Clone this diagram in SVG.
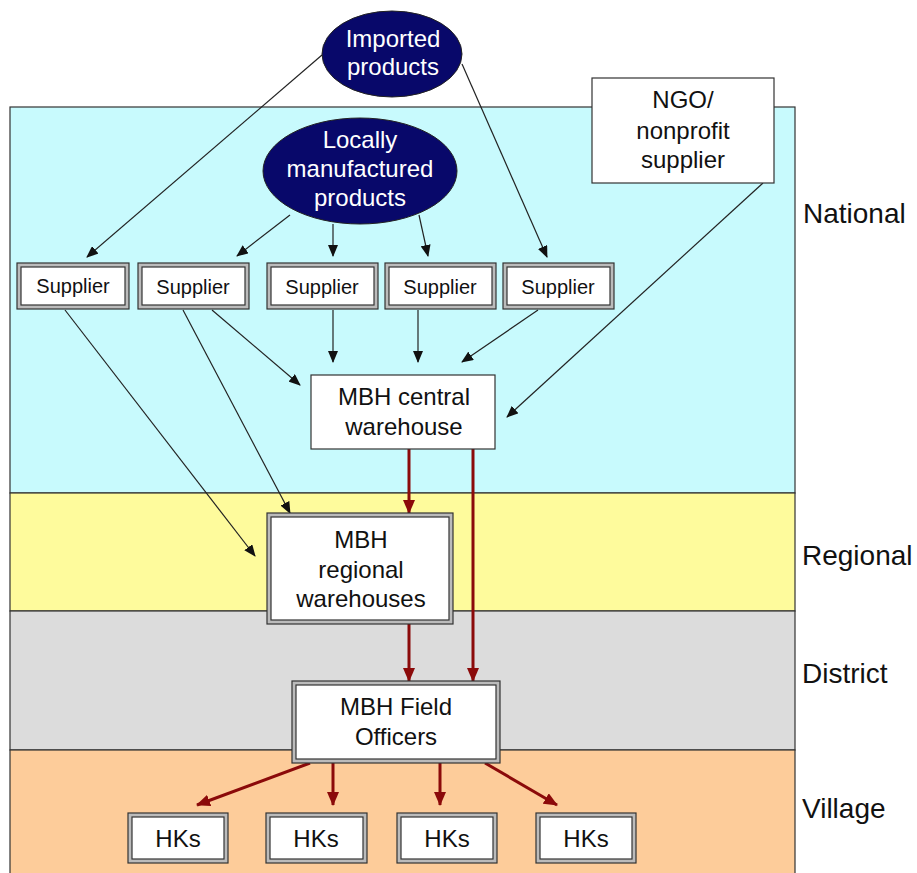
<svg xmlns="http://www.w3.org/2000/svg" width="917" height="873" viewBox="0 0 917 873">
<style>
text{font-family:"Liberation Sans",Arial,sans-serif;text-anchor:middle;fill:#111}
.w{fill:#fff;font-size:24px}
.s{font-size:20px}
.m{font-size:24px}
.lbl{font-size:28px;text-anchor:start}
.band{stroke:#333;stroke-width:1.2}
.o{fill:#bbb;stroke:#333;stroke-width:1.2}
.i{fill:#fff;stroke:#333;stroke-width:1.2}
.b{stroke:#222;stroke-width:1.2;fill:none;marker-end:url(#ab)}
.r{stroke:#8b0a0a;stroke-width:3;fill:none;marker-end:url(#ar)}
</style>
<defs>
<marker id="ab" markerWidth="12" markerHeight="10" refX="11" refY="5" orient="auto" markerUnits="userSpaceOnUse"><path d="M0,0 L12,5 L0,10 Z" fill="#111"/></marker>
<marker id="ar" markerWidth="14" markerHeight="12" refX="13" refY="6" orient="auto" markerUnits="userSpaceOnUse"><path d="M0,0 L14,6 L0,12 Z" fill="#8b0a0a"/></marker>
</defs>
<rect width="917" height="873" fill="#fff"/>
<g id="bands">
<rect class="band" x="10" y="107" width="785" height="386" fill="#c8fafd"/>
<rect class="band" x="10" y="493" width="785" height="118" fill="#fefb9c"/>
<rect class="band" x="10" y="611" width="785" height="139" fill="#dcdcdc"/>
<rect class="band" x="10" y="750" width="785" height="130" fill="#fdcc9a"/>
<text class="lbl" x="803" y="223">National</text>
<text class="lbl" x="802" y="565">Regional</text>
<text class="lbl" x="802" y="683">District</text>
<text class="lbl" x="802" y="818">Village</text>
</g>
<g id="connectors">
<line class="b" x1="322" y1="55" x2="87" y2="257"/>
<line class="b" x1="462" y1="64" x2="547" y2="257"/>
<line class="b" x1="290" y1="215" x2="237" y2="256"/>
<line class="b" x1="333" y1="224" x2="333" y2="256"/>
<line class="b" x1="419" y1="215" x2="428" y2="256"/>
<line class="b" x1="763" y1="183" x2="507" y2="417"/>
<line class="b" x1="212" y1="310" x2="300" y2="385"/>
<line class="b" x1="333" y1="310" x2="333" y2="362"/>
<line class="b" x1="418" y1="310" x2="418" y2="362"/>
<line class="b" x1="538" y1="310" x2="462" y2="362"/>
<line class="b" x1="65" y1="310" x2="255" y2="556"/>
<line class="b" x1="183" y1="310" x2="290" y2="513"/>
<line class="r" x1="409" y1="449" x2="409" y2="513"/>
<line class="r" x1="473" y1="449" x2="473" y2="681"/>
<line class="r" x1="409" y1="624" x2="409" y2="681"/>
<line class="r" x1="310" y1="763" x2="197" y2="805"/>
<line class="r" x1="333" y1="763" x2="333" y2="805"/>
<line class="r" x1="440" y1="763" x2="440" y2="805"/>
<line class="r" x1="485" y1="763" x2="557" y2="805"/>
</g>
<g id="imported">
<ellipse cx="392" cy="54" rx="70" ry="43" fill="#08086a" stroke="#222"/>
<text class="w" x="393" y="47">Imported</text>
<text class="w" x="393" y="75">products</text>
</g>
<g id="local">
<ellipse cx="360" cy="171" rx="97" ry="53" fill="#08086a" stroke="#222"/>
<text class="w" x="360" y="148">Locally</text>
<text class="w" x="360" y="177">manufactured</text>
<text class="w" x="360" y="206">products</text>
</g>
<g id="ngo">
<rect class="i" x="592" y="78" width="182" height="105"/>
<text class="m" x="683" y="108">NGO/</text>
<text class="m" x="683" y="139">nonprofit</text>
<text class="m" x="683" y="168">supplier</text>
</g>
<g id="supplier1"><rect class="o" x="17" y="263" width="112" height="46"/><rect class="i" x="21" y="267" width="104" height="38"/><text class="s" x="73" y="293">Supplier</text></g>
<g id="supplier2"><rect class="o" x="138" y="263" width="111" height="46"/><rect class="i" x="142" y="267" width="103" height="38"/><text class="s" x="193" y="294">Supplier</text></g>
<g id="supplier3"><rect class="o" x="267" y="263" width="111" height="46"/><rect class="i" x="271" y="267" width="103" height="38"/><text class="s" x="322" y="294">Supplier</text></g>
<g id="supplier4"><rect class="o" x="385" y="263" width="111" height="46"/><rect class="i" x="389" y="267" width="103" height="38"/><text class="s" x="440" y="294">Supplier</text></g>
<g id="supplier5"><rect class="o" x="503" y="263" width="111" height="46"/><rect class="i" x="507" y="267" width="103" height="38"/><text class="s" x="558" y="294">Supplier</text></g>
<g id="central">
<rect class="i" x="311" y="375" width="184" height="74"/>
<text class="m" x="404" y="405">MBH central</text>
<text class="m" x="404" y="435">warehouse</text>
</g>
<g id="regional">
<rect class="o" x="267" y="513" width="186" height="111"/><rect class="i" x="271" y="517" width="178" height="103"/>
<text class="m" x="361" y="548">MBH</text>
<text class="m" x="361" y="578">regional</text>
<text class="m" x="361" y="607">warehouses</text>
</g>
<g id="field">
<rect class="o" x="292" y="681" width="208" height="82"/><rect class="i" x="296" y="685" width="200" height="74"/>
<text class="m" x="396" y="715">MBH Field</text>
<text class="m" x="396" y="745">Officers</text>
</g>
<g id="hk1"><rect class="o" x="128" y="813" width="100" height="50"/><rect class="i" x="132" y="817" width="92" height="42"/><text class="m" x="178" y="847">HKs</text></g>
<g id="hk2"><rect class="o" x="266" y="813" width="101" height="50"/><rect class="i" x="270" y="817" width="93" height="42"/><text class="m" x="316" y="847">HKs</text></g>
<g id="hk3"><rect class="o" x="397" y="813" width="100" height="50"/><rect class="i" x="401" y="817" width="92" height="42"/><text class="m" x="447" y="847">HKs</text></g>
<g id="hk4"><rect class="o" x="536" y="813" width="100" height="50"/><rect class="i" x="540" y="817" width="92" height="42"/><text class="m" x="586" y="847">HKs</text></g>
</svg>
